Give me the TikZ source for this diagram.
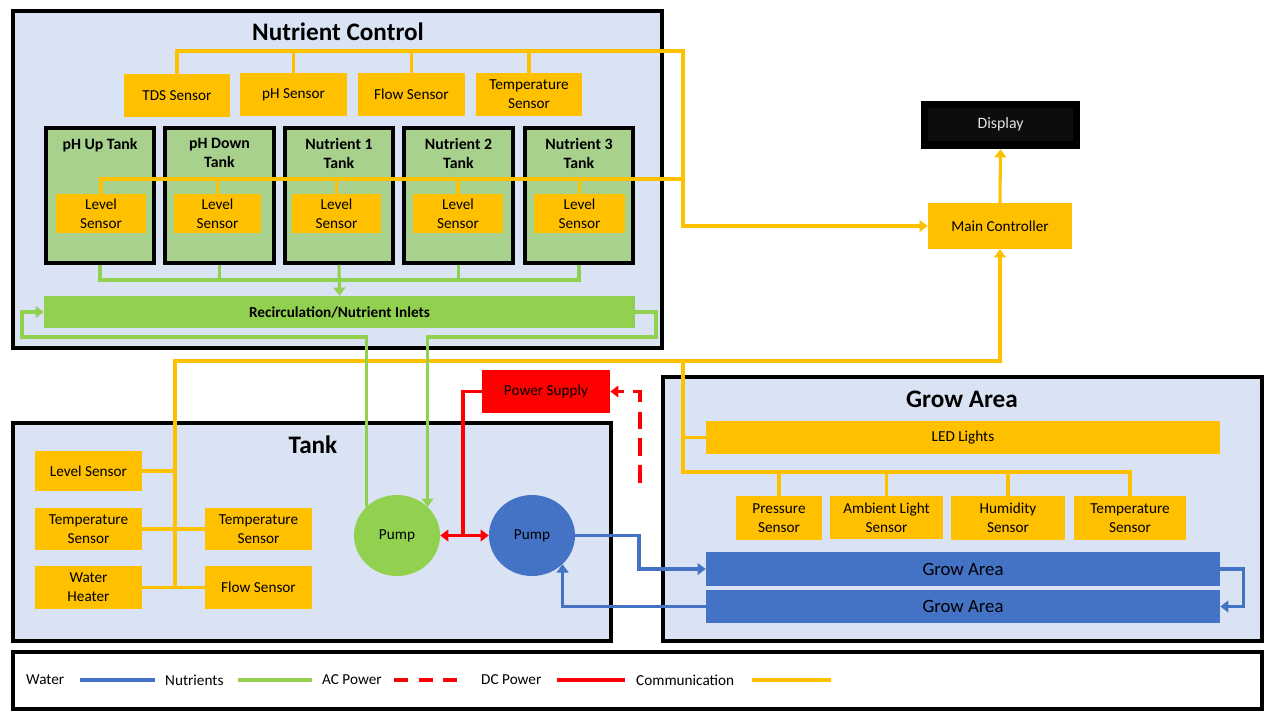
\documentclass[tikz,border=0pt]{standalone}
\usepackage{fontspec}
\setmainfont{Carlito}
\usetikzlibrary{arrows.meta,fit,shapes.geometric}
\definecolor{panelblue}{HTML}{DAE3F3}
\definecolor{amber}{HTML}{FFC000}
\definecolor{tankgreen}{HTML}{A9D18E}
\definecolor{leaf}{HTML}{92D050}
\definecolor{waterblue}{HTML}{4472C4}
\definecolor{screen}{HTML}{0D0D0D}

\begin{document}
\begin{tikzpicture}[x=0.03cm,y=-0.03cm,
    font=\fontsize{13}{16}\selectfont,
    >={Triangle[length=7pt,width=10pt]},
    size/.style 2 args={minimum width=#1*0.03cm,minimum height=#2*0.03cm},
    panel/.style={draw=black,line width=2.6pt,fill=panelblue,inner sep=0pt},
    heading/.style={font=\fontsize{21.5}{24}\selectfont\bfseries,inner sep=0pt},
    sensor/.style={fill=amber,inner sep=0pt,align=center},
    tankbox/.style={draw=black,line width=3pt,fill=tankgreen,inner sep=0pt},
    tanktitle/.style={font=\fontsize{13.5}{16}\selectfont\bfseries,align=center,anchor=north,inner sep=0pt},
    pump/.style={ellipse,minimum width=2.58cm,minimum height=2.43cm,inner sep=0pt,font=\fontsize{13}{15}\selectfont},
    bed/.style={fill=waterblue,inner sep=0pt,font=\fontsize{16}{18}\selectfont},
    commline/.style={amber,line width=2.6pt},
    nutrline/.style={leaf,line width=2.6pt},
    waterline/.style={waterblue,line width=2.6pt},
    dcline/.style={red,line width=2.6pt},
    acline/.style={red,line width=2.6pt,dash pattern=on 15pt off 8pt},
    legtext/.style={anchor=west,inner sep=0pt},
    swatch/.style={line width=3.4pt}]
    \fill[white] (0,0) rectangle (1280,720);
    \useasboundingbox (0,0) rectangle (1280,720);

    % panels
    \node[panel,fit={(13,11) (662,348)}] (nc) {};
    \node[panel,fit={(13,423) (611,641)}] (tank) {};
    \node[panel,fit={(663,377) (1262,641)}] (grow) {};
    \node[panel,fill=white,fit={(13,652) (1262,709)}] (legend) {};
    \node[heading] (nctitle) at (338,32) {Nutrient Control};
    \node[heading] (tanktitle) at (313,445) {Tank};
    \node[heading] (growtitle) at (962,399) {Grow Area};

    % nutrient control
    \node[sensor,size={106}{43}] (tds) at (177,95.5) {TDS Sensor};
    \node[sensor,size={107}{43}] (ph) at (293.5,94.5) {pH Sensor};
    \node[sensor,size={107}{43}] (flow) at (411.5,94.5) {Flow Sensor};
    \node[sensor,size={106}{43}] (tempnc) at (529,94.5) {Temperature\\Sensor};
    \node[tankbox,fit={(46,128) (154,263)}] (phup) {};
    \node[tankbox,fit={(165,128) (274,263)}] (phdown) {};
    \node[tankbox,fit={(285,128) (393,263)}] (nut1) {};
    \node[tankbox,fit={(404,128) (513,263)}] (nut2) {};
    \node[tankbox,fit={(525,128) (633,263)}] (nut3) {};
    \node[tanktitle] (phupt) at (100,138) {pH Up Tank};
    \node[tanktitle] (phdownt) at (219.5,138) {pH Down\\Tank};
    \node[tanktitle] (nut1t) at (339,138) {Nutrient 1\\Tank};
    \node[tanktitle] (nut2t) at (458.5,138) {Nutrient 2\\Tank};
    \node[tanktitle] (nut3t) at (579,138) {Nutrient 3\\Tank};
    \node[sensor,size={90}{39}] (lv1) at (101,213.5) {Level\\Sensor};
    \node[sensor,size={87}{39}] (lv2) at (217.5,213.5) {Level\\Sensor};
    \node[sensor,size={89}{39}] (lv3) at (336.5,213.5) {Level\\Sensor};
    \node[sensor,size={90}{39}] (lv4) at (458,213.5) {Level\\Sensor};
    \node[sensor,size={91}{39}] (lv5) at (579.5,213.5) {Level\\Sensor};
    \node[fill=leaf,inner sep=0pt,font=\fontsize{13}{16}\selectfont\bfseries,size={591}{32}] (recirc) at (339.5,312) {Recirculation/Nutrient Inlets};

    % tank
    \node[sensor,size={107}{40}] (tlevel) at (88.5,471) {Level Sensor};
    \node[sensor,size={107}{42}] (ttemp1) at (88.5,529) {Temperature\\Sensor};
    \node[sensor,size={107}{43}] (heater) at (88.5,587.5) {Water\\Heater};
    \node[sensor,size={107}{42}] (ttemp2) at (258.5,529) {Temperature\\Sensor};
    \node[sensor,size={107}{43}] (tflow) at (258.5,587.5) {Flow Sensor};
    \node[pump,fill=leaf] (gpump) at (397,535.5) {Pump};
    \node[pump,fill=waterblue] (bpump) at (532,535.5) {Pump};
    \node[fill=red,inner sep=0pt,size={128}{43}] (psu) at (546,391.5) {Power Supply};

    % grow area
    \node[sensor,size={514}{33}] (led) at (963,437.5) {LED Lights};
    \node[sensor,size={86}{44}] (press) at (779,518) {Pressure\\Sensor};
    \node[sensor,size={113}{43}] (amb) at (886.5,517.5) {Ambient Light\\Sensor};
    \node[sensor,size={114}{44}] (hum) at (1008,518) {Humidity\\Sensor};
    \node[sensor,size={112}{44}] (tempg) at (1130,518) {Temperature\\Sensor};
    \node[bed,size={514}{34}] (grow1) at (963,569) {Grow Area};
    \node[bed,size={514}{33}] (grow2) at (963,606.5) {Grow Area};

    % controller
    \node[sensor,size={144}{46}] (mc) at (1000,226) {Main Controller};
    \node[fill=black,inner sep=0pt,fit={(921,101) (1080,149)}] (dispframe) {};
    \node[fill=screen,inner sep=0pt,text=black!10,font=\fontsize{13.5}{16}\selectfont,size={145}{33}] (display) at (1000.5,124.5) {Display};

    % communication
    \coordinate (ncbus) at (683,51);
    \coordinate (lvbus) at (683,179);
    \coordinate (tbus) at (175,361);
    \coordinate (gbus) at (683,472);
    \draw[commline,->] (tds.north) |- (ncbus) |- (mc.west);
    \draw[commline] (ph.north) -- (ph.north |- ncbus);
    \draw[commline] (flow.north) -- (flow.north |- ncbus);
    \draw[commline] (tempnc.north) -- (tempnc.north |- ncbus);
    \draw[commline] (lv1.north) |- (lvbus);
    \draw[commline] (lv2.north) -- (lv2.north |- lvbus);
    \draw[commline] (lv3.north) -- (lv3.north |- lvbus);
    \draw[commline] (lv4.north) -- (lv4.north |- lvbus);
    \draw[commline] (lv5.north) -- (lv5.north |- lvbus);
    \draw[commline] (tlevel.east) -- (tlevel.east -| tbus);
    \draw[commline] (ttemp1.east) -- (ttemp2.west);
    \draw[commline] (heater.east) -- (tflow.west);
    \draw[commline,->] (heater.east -| tbus) -- (tbus) -| (mc.south);
    \draw[commline] (tbus -| gbus) -- (gbus) -| (tempg.north);
    \draw[commline] (led.west -| gbus) -- (led.west);
    \draw[commline] (press.north) -- (press.north |- gbus);
    \draw[commline] (amb.north) -- (amb.north |- gbus);
    \draw[commline] (hum.north) -- (hum.north |- gbus);
    \draw[commline,->] (mc.north) -- (dispframe.south);

    % nutrients
    \coordinate (tkbus) at (339,280);
    \coordinate (rloop) at (656,337);
    \coordinate (lloop) at (22,337);
    \draw[nutrline] (phup.south) |- (tkbus);
    \draw[nutrline] (nut3.south) |- (tkbus);
    \draw[nutrline] (phdown.south) -- (phdown.south |- tkbus);
    \draw[nutrline] (nut2.south) -- (nut2.south |- tkbus);
    \draw[nutrline,->] (nut1.south) -- (recirc.north);
    \draw[nutrline,->] (recirc.east) -| (rloop) -| (gpump.north east);
    \draw[nutrline,->] (gpump.north west) |- (lloop) |- (recirc.west);

    % water
    \coordinate (wout) at (639,569);
    \draw[waterline,->] (bpump.east) -| (wout) -- (grow1.west);
    \draw[waterline,->] (grow2.west) -| (bpump.south east);
    \draw[waterline,->] (grow1.east) -- ++(23,0) |- (grow2.east);

    % power
    \coordinate (psj) at (463,535.5);
    \coordinate (acin) at (640,483);
    \draw[dcline] (psu.west) -| (psj);
    \draw[dcline,<->] (gpump.east) -- (bpump.west);
    \draw[acline,->] (acin) |- (psu.east);

    % legend
    \node[legtext] (lgwater) at (26,680) {Water};
    \draw[waterline,swatch] (80,680) -- (155,680);
    \node[legtext] (lgnutr) at (165,680) {Nutrients};
    \draw[nutrline,swatch] (238,680) -- (312,680);
    \node[legtext] (lgac) at (322,680) {AC Power};
    \draw[acline,swatch,dash pattern=on 12pt off 9pt] (394,680) -- (466,680);
    \node[legtext] (lgdc) at (481,680) {DC Power};
    \draw[dcline,swatch] (557,680) -- (625,680);
    \node[legtext] (lgcomm) at (636,680) {Communication};
    \draw[commline,swatch] (752,680) -- (831,680);
\end{tikzpicture}
\end{document}
